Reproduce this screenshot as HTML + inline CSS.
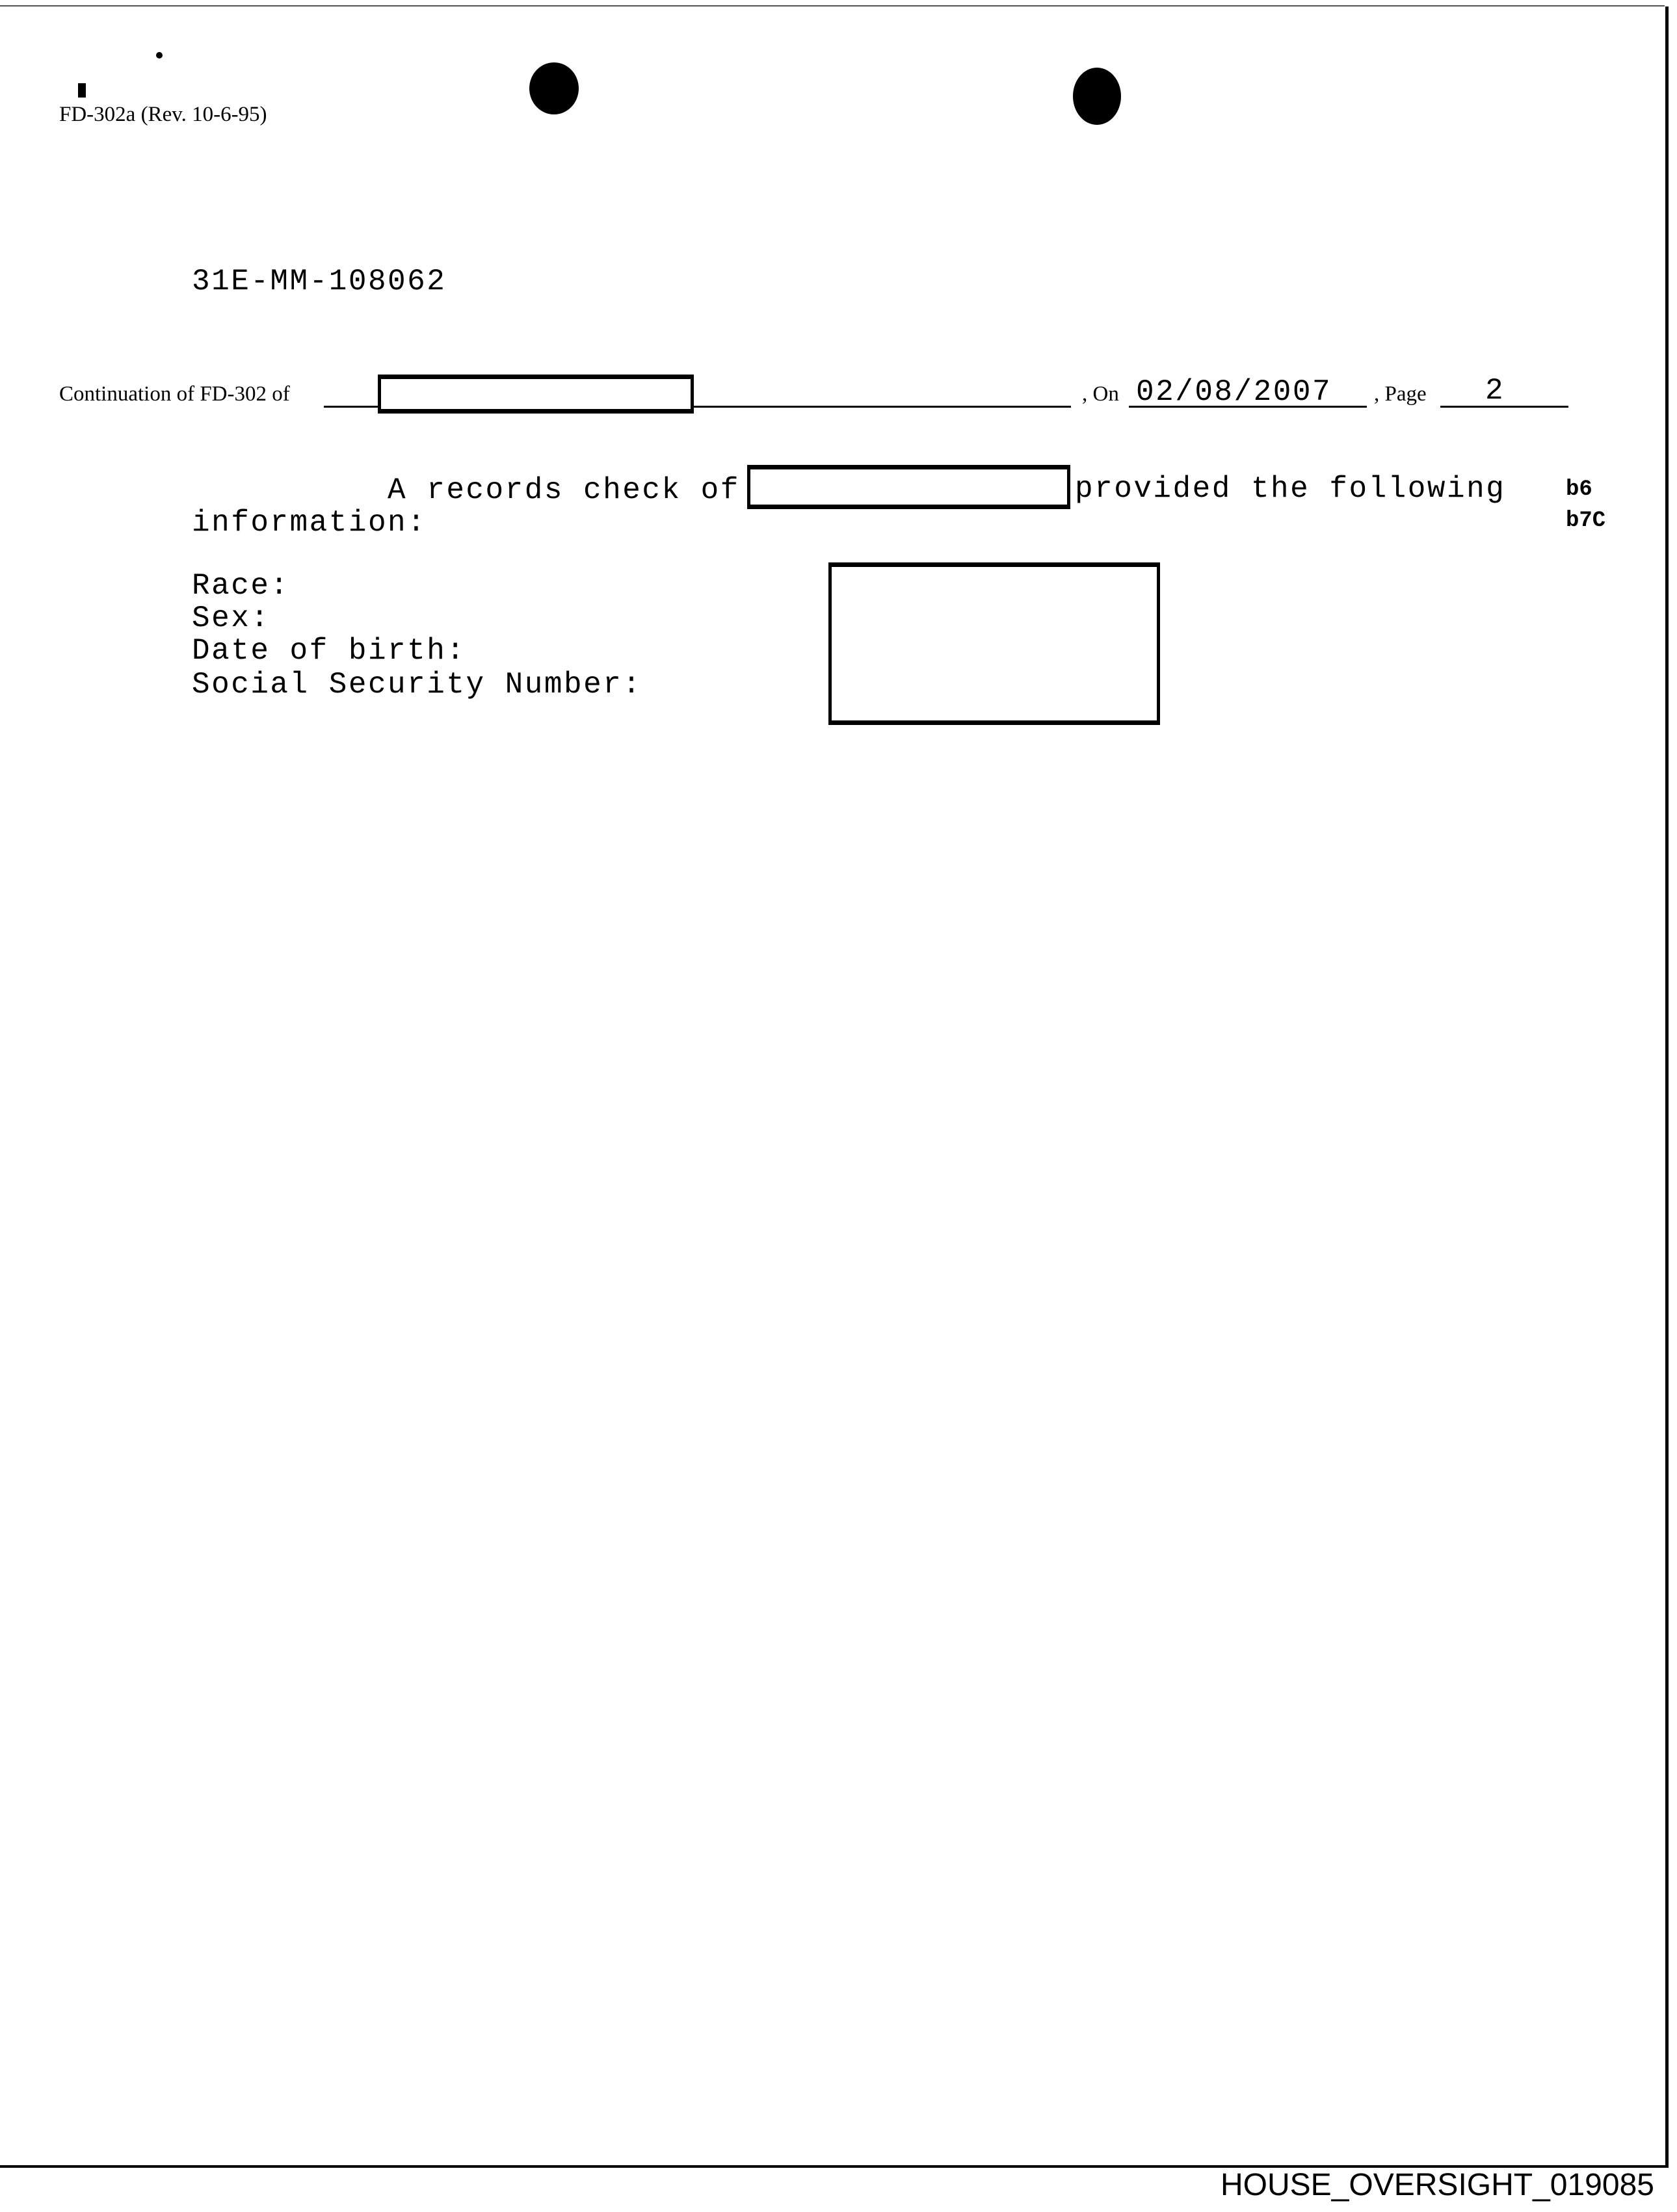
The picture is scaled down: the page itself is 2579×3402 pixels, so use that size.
<!DOCTYPE html>
<html><head><meta charset="utf-8"><style>
html,body{margin:0;padding:0;background:#fff}
body{width:2579px;height:3402px;position:relative;overflow:hidden}
.a{position:absolute;white-space:pre;color:#000}
.m{font-family:"Liberation Mono",monospace;font-size:46px;line-height:46px;letter-spacing:2.5px}
.t{font-family:"Liberation Serif",serif;font-size:33px;line-height:33px}
.box{position:absolute;border:5px solid #000;border-top-width:7px;border-bottom-width:7px;box-sizing:border-box;background:#fff}
.ln{position:absolute;background:#000;height:3px}
</style></head><body>
<div class="ln" style="left:0;top:8px;width:2560px;height:2px;background:#555"></div>
<div style="position:absolute;left:2561px;top:10px;width:5px;height:3322px;background:#000"></div>
<div class="ln" style="left:0;top:3330px;width:2566px;height:4px"></div>
<div class="a" style="left:1877px;top:3337px;font-family:'Liberation Sans',sans-serif;font-size:48px;line-height:48px">HOUSE_OVERSIGHT_019085</div>

<div style="position:absolute;left:814px;top:96px;width:76px;height:80px;border-radius:50%;background:#000"></div>
<div style="position:absolute;left:1650px;top:104px;width:74px;height:88px;border-radius:50%;background:#000"></div>
<div style="position:absolute;left:240px;top:80px;width:10px;height:10px;background:#000;border-radius:50%"></div>
<div style="position:absolute;left:120px;top:128px;width:12px;height:22px;background:#000"></div>

<div class="a t" style="left:91px;top:160px;">FD-302a (Rev. 10-6-95)</div>
<div class="a m" style="left:295px;top:410px;">31E-MM-108062</div>

<div class="a t" style="left:91px;top:590px;">Continuation of FD-302 of</div>
<div class="ln" style="left:498px;top:624px;width:1149px"></div>
<div class="box" style="left:581px;top:576px;width:486px;height:60px"></div>
<div class="a t" style="left:1664px;top:590px;">, On</div>
<div class="a m" style="left:1747px;top:580px;">02/08/2007</div>
<div class="ln" style="left:1736px;top:624px;width:366px"></div>
<div class="a t" style="left:2113px;top:590px;">, Page</div>
<div class="a m" style="left:2284px;top:578px;">2</div>
<div class="ln" style="left:2215px;top:624px;width:197px"></div>

<div class="a m" style="left:596px;top:731px;">A records check of</div>
<div class="box" style="left:1149px;top:715px;width:497px;height:68px"></div>
<div class="a m" style="left:1653px;top:729px;">provided the following</div>
<div class="a m" style="left:295px;top:781px;">information:</div>
<div class="a" style="left:2408px;top:736px;font-family:'Liberation Mono',monospace;font-weight:bold;font-size:34px;line-height:34px">b6</div>
<div class="a" style="left:2408px;top:784px;font-family:'Liberation Mono',monospace;font-weight:bold;font-size:34px;line-height:34px">b7C</div>

<div class="a m" style="left:295px;top:878px;">Race:</div>
<div class="a m" style="left:295px;top:928px;">Sex:</div>
<div class="a m" style="left:295px;top:978px;">Date of birth:</div>
<div class="a m" style="left:295px;top:1030px;">Social Security Number:</div>
<div class="box" style="left:1274px;top:865px;width:510px;height:250px"></div>
</body></html>
